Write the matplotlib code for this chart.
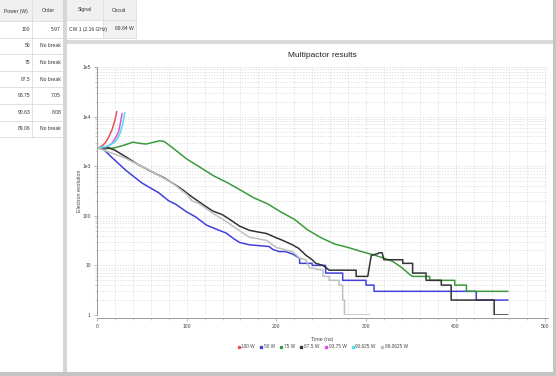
"""Multipactor results screen: power/order table, signal table and log chart."""

import matplotlib

matplotlib.use("Agg")
import matplotlib.pyplot as plt
from matplotlib.lines import Line2D
from matplotlib.patches import Rectangle
from matplotlib.ticker import FixedLocator, MultipleLocator, NullFormatter

plt.rcParams["font.family"] = ["Liberation Sans", "DejaVu Sans"]

# ---- table data ----
power_col = ["100", "50", "75", "87.5", "93.75", "90.63", "89.06"]
order_col = ["5.97", "No break", "No break", "No break", "7.05", "8.08", "No break"]
signal_col = ["CW 1 (2.16 GHz)"]
circuit_col = ["89.84 W"]

# ---- chart data (time in ns, electron count) ----
t_100 = [0, 4, 8, 11, 14, 17, 20, 22]
n_100 = [2300, 2450, 2800, 3300, 4200, 5600, 8500, 12500]

t_50 = [0, 6, 15, 32, 50, 69, 80, 88, 100, 110, 122, 135, 144, 152, 159, 170,
        181, 192, 196, 203, 210, 218, 226, 226, 240, 240, 255, 255, 274, 274,
        300, 300, 309, 309, 423, 423, 458]
n_50 = [2350, 2300, 1600, 830, 460, 290, 200, 170, 120, 95, 65, 52, 45, 35, 29, 26,
        25, 24, 21, 19, 19, 17, 14, 11, 11, 10, 10, 7, 7, 5,
        5, 4, 4, 3, 3, 2, 2]

t_75 = [0, 10, 20, 30, 40, 50, 55, 60, 70, 75, 85, 100, 115, 130, 145, 160, 175,
        190, 205, 220, 235, 250, 265, 280, 295, 310, 320, 330, 340, 349, 352,
        371, 371, 399, 399, 412, 412, 458]
n_75 = [2300, 2250, 2350, 2650, 3050, 2850, 2800, 2950, 3250, 3150, 2300, 1400,
        950, 640, 470, 330, 230, 175, 120, 85, 52, 36, 27, 23, 19, 16, 14, 12, 9,
        6.5, 6, 6, 5, 5, 4, 4, 3, 3]

t_875 = [0, 13, 20, 32, 45, 62, 75, 84, 95, 106, 118, 129, 140, 150, 159, 170,
         180, 189, 200, 207, 218, 225, 233, 240, 244, 252, 259, 289, 289, 302,
         304, 306, 312, 315, 318, 320, 341, 341, 352, 352, 367, 367, 384, 384,
         395, 395, 443, 443, 458]
n_875 = [2350, 2350, 2100, 1550, 1100, 760, 580, 460, 340, 240, 170, 125, 105, 80,
         62, 51, 47, 44, 36, 32, 26, 22, 16, 13, 11, 10, 8, 8, 6, 6,
         10, 16, 17, 18, 18, 13, 13, 11, 11, 7, 7, 5, 5, 4,
         4, 2, 2, 1, 1]

t_9375 = [0, 5, 10, 15, 18, 21, 24, 26, 28]
n_9375 = [2300, 2350, 2450, 2700, 3100, 3800, 4900, 7200, 11500]

t_90625 = [0, 5, 10, 15, 20, 23, 26, 29, 31]
n_90625 = [2300, 2400, 2500, 2700, 3100, 3600, 4700, 7500, 12000]

t_890625 = [0, 30, 60, 84, 100, 106, 114, 130, 145, 159, 170, 189, 200, 218, 226,
            233, 237, 252, 252, 259, 259, 270, 270, 274, 274, 276, 276, 304]
n_890625 = [2350, 1500, 800, 460, 270, 200, 175, 110, 75, 50, 37, 32, 23, 19, 14,
            13, 9, 8, 6, 6, 5, 5, 4, 4, 2, 2, 1, 1]

series_labels = ["100 W", "50 W", "75 W", "87.5 W", "93.75 W", "90.625 W", "89.0625 W"]
series_colors = ["#e8505a", "#4040dd", "#3c9a3c", "#333333", "#e050e0", "#50e0f0", "#c0c0c0"]
series_t = [t_100, t_50, t_75, t_875, t_9375, t_90625, t_890625]
series_n = [n_100, n_50, n_75, n_875, n_9375, n_90625, n_890625]

W, H = 556, 376
fig = plt.figure(figsize=(W / 100, H / 100), dpi=100, facecolor="white")

# ---- UI background in pixel coordinates ----
ui = fig.add_axes([0, 0, 1, 1], zorder=0)
ui.set_xlim(0, W)
ui.set_ylim(H, 0)
ui.axis("off")

line_c = "#dcdcdc"
head_bg = "#f0f0f0"
txt_c = "#333333"
fs_ui = 3.6

# left table
ui.add_patch(Rectangle((0, 0), 63, 21, facecolor=head_bg, edgecolor="none"))
ui.text(16, 11, "Power (W)", ha="center", va="center", fontsize=fs_ui, color=txt_c)
ui.text(48, 11, "Order", ha="center", va="center", fontsize=fs_ui, color=txt_c)
ui.plot([32, 32], [0, 21], color=line_c, lw=0.6)
row_h = 16.6
for i, (p, o) in enumerate(zip(power_col, order_col)):
    yc = 21 + row_h * (i + 0.5)
    ui.text(30, yc, p, ha="right", va="center", fontsize=fs_ui, color=txt_c)
    ui.text(61, yc, o, ha="right", va="center", fontsize=fs_ui, color=txt_c)
    ui.plot([0, 63], [21 + row_h * (i + 1)] * 2, color=line_c, lw=0.6)
    ui.plot([32, 32], [21 + row_h * i, 21 + row_h * (i + 1)], color=line_c, lw=0.6)
ui.plot([0, 63], [21, 21], color=line_c, lw=0.6)

# separators / frame bars
ui.add_patch(Rectangle((63, 0), 4, 372, facecolor="#d6d6d6", edgecolor="none"))
ui.add_patch(Rectangle((67, 40), 486, 4, facecolor="#dadada", edgecolor="none"))
ui.add_patch(Rectangle((553, 0), 3, H, facecolor="#c4c4c4", edgecolor="none"))
ui.add_patch(Rectangle((0, 372), W, 4, facecolor="#c4c4c4", edgecolor="none"))

# signal / circuit table
ui.add_patch(Rectangle((67, 0), 69, 20, facecolor=head_bg, edgecolor="none"))
ui.add_patch(Rectangle((103, 20), 33, 18, facecolor="#f2f2f2", edgecolor="none"))
ui.plot([103, 103], [0, 38], color=line_c, lw=0.6)
ui.plot([136, 136], [0, 38], color=line_c, lw=0.6)
ui.plot([67, 136], [20, 20], color=line_c, lw=0.6)
ui.plot([67, 136], [38, 38], color=line_c, lw=0.6)
ui.text(85, 10, "Signal", ha="center", va="center", fontsize=fs_ui, color=txt_c)
ui.text(119, 10, "Circuit", ha="center", va="center", fontsize=fs_ui, color=txt_c)
ui.text(69, 29, signal_col[0], ha="left", va="center", fontsize=fs_ui, color=txt_c)
ui.text(134, 29, circuit_col[0], ha="right", va="center", fontsize=fs_ui, color=txt_c)

# ---- chart ----
x0, x1, y0, y1 = 97, 548, 67, 315
ax = fig.add_axes([x0 / W, (H - y1) / H, (x1 - x0) / W, (y1 - y0) / H], zorder=1)
ax.set_facecolor("none")

for t, n, c in zip(series_t, series_n, series_colors):
    ax.plot(t, n, color=c, lw=1.1)

ax.set_yscale("log")
ax.set_ylim(1, 1e5)
ax.set_xlim(0, 503)

ax.set_yticks([1, 10, 100, 1e3, 1e4, 1e5])
ax.set_yticklabels(["1", "10", "100", "1e3", "1e4", "1e5"])
ax.yaxis.set_minor_locator(FixedLocator(
    [m * 10 ** e for e in range(5) for m in range(2, 10)]))
ax.yaxis.set_minor_formatter(NullFormatter())
ax.set_xticks([0, 100, 200, 300, 400, 500])
xlabels = ax.set_xticklabels(["0", "100", "200", "300", "400", "500"])
xlabels[-1].set_bbox(dict(facecolor="#d0d0d0", edgecolor="none", pad=0.8))
ax.xaxis.set_minor_locator(MultipleLocator(20))

ax.grid(True, which="both", color="#d9d9d9", lw=0.5, ls=(0, (2, 2)))
for s in ("top", "right"):
    ax.spines[s].set_visible(False)
for s in ("left", "bottom"):
    ax.spines[s].set_color("#999999")
    ax.spines[s].set_linewidth(0.7)
ax.spines["bottom"].set_position(("outward", 2.2))
ax.tick_params(which="major", length=2.5, width=0.5, color="#999999",
               labelsize=3.6, labelcolor="#444444", pad=2)
ax.tick_params(which="minor", length=1.5, width=0.4, color="#aaaaaa")

ax.text(0.5, 1.045, "Multipactor results", transform=ax.transAxes,
        ha="center", va="center", fontsize=6, color="#222222")
ax.set_xlabel("Time (ns)", fontsize=3.8, color="#444444")
ax.xaxis.set_label_coords(0.5, -0.089)
ax.set_ylabel("Electron evolution", fontsize=3.8, color="#444444")
ax.yaxis.set_label_coords(-0.033, 0.5)

handles = [Line2D([], [], color=c, marker="s", ls="", markersize=1.8)
           for c in series_colors]
ax.legend(handles, series_labels, loc="center", bbox_to_anchor=(0.5, -0.129),
          ncol=7, frameon=False, fontsize=3.4, handlelength=0.6,
          handletextpad=0.3, columnspacing=1.0, labelcolor="#444444")

fig.savefig("out.png", dpi=100)
